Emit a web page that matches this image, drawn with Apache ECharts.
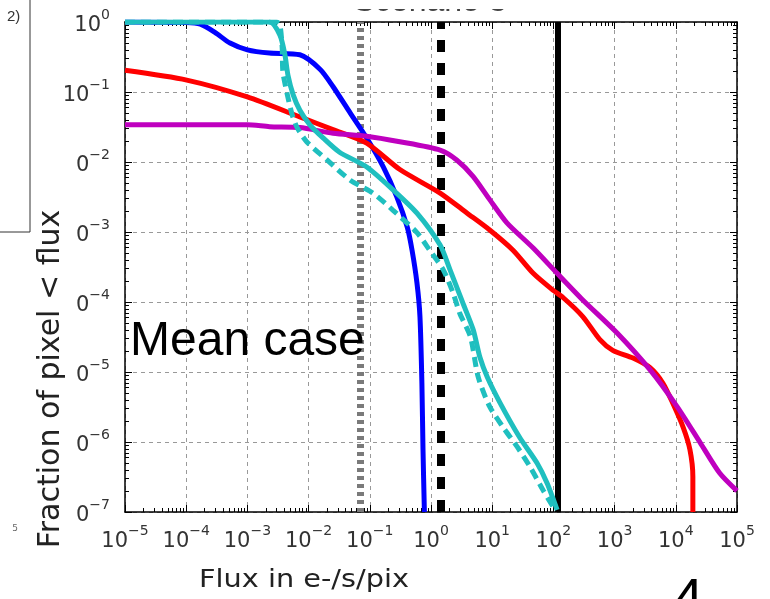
<!DOCTYPE html>
<html><head><meta charset="utf-8">
<script src="https://cdn.jsdelivr.net/npm/echarts@6/dist/echarts.min.js"></script>
<style>html,body{margin:0;padding:0;background:#fff}#c{width:770px;height:599px}</style>
</head><body><div id="c"></div>
<script>
// tick labels (decades)
const xTicks = [1e-5,1e-4,1e-3,1e-2,1e-1,1e0,1e1,1e2,1e3,1e4,1e5];
const yTicks = [1e-7,1e-6,1e-5,1e-4,1e-3,1e-2,1e-1,1e0];

// blue curve
const blueX = [1e-5,1.0e-4,1.7e-4,2.95e-4,5.2e-4,1.0e-3,2.3e-3,7.2e-3,0.0155,0.025,0.048,0.089,0.166,0.275,0.41,0.49,0.59,0.66,0.71,0.74,0.78];
const blueY = [1.0,0.98,0.93,0.71,0.50,0.40,0.36,0.34,0.21,0.12,0.05,0.022,0.0085,0.0032,0.00117,5.5e-4,1.86e-4,6.2e-5,6.9e-6,7.8e-7,1e-7];

// red curve
const redX = [1e-5,1.02e-4,1e-3,7.2e-3,0.025,0.089,0.31,1.41,3.9,9.1,21.9,46.8,98,145,302,575,933,2000,3800,6170,8900,13200,17000,19000,19000];
const redY = [0.204,0.148,0.085,0.044,0.029,0.0186,0.0078,0.0036,0.00186,0.00107,5.5e-4,2.57e-4,1.48e-4,1.15e-4,6.2e-5,2.9e-5,2.04e-5,1.58e-5,1.15e-5,6.9e-6,3.6e-6,1.62e-6,7.8e-7,3.2e-7,1e-7];

// purple curve
const purpleX = [1e-5,1e-3,2.3e-3,7.2e-3,0.025,0.089,0.31,1.41,2.63,4.9,9.1,17.4,46.8,115,302,1100,3800,10500,25000,52000,1e5];
const purpleY = [0.034,0.034,0.032,0.031,0.0257,0.0234,0.0195,0.0148,0.0107,0.0062,0.0029,0.00135,5.9e-4,2.57e-4,1.07e-4,3.6e-5,1.07e-5,3.2e-6,9.8e-7,3.6e-7,2.0e-7];

// cyan solid curve
const cyanX = [1e-5,2.3e-3,3.4e-3,4.1e-3,4.6e-3,5.6e-3,7.2e-3,0.0105,0.0174,0.032,0.089,0.24,0.59,1.41,2.04,3.3,4.9,6.3,8.3,13.5,28,54,79,115];
const cyanY = [1.0,1.0,0.65,0.34,0.174,0.091,0.055,0.034,0.0219,0.0138,0.0085,0.0040,0.00186,6.5e-4,2.9e-4,9.8e-5,4.0e-5,1.62e-5,8.5e-6,3.6e-6,1.17e-6,5.0e-7,2.57e-7,1.07e-7];

// cyan dashed curve
const cyanDashX = [1e-5,3.0e-3,3.4e-3,3.7e-3,3.8e-3,4.5e-3,5.4e-3,6.5e-3,9.3e-3,0.020,0.048,0.112,0.24,0.59,0.95,1.58,2.29,2.95,4.4,5.9,9.1,15.1,25.7,41.7,68,100];
const cyanDashY = [1.0,1.0,0.91,0.43,0.195,0.091,0.047,0.031,0.0195,0.0107,0.0055,0.0036,0.00204,9.8e-4,5.5e-4,2.9e-4,1.35e-4,6.9e-5,3.2e-5,8.5e-6,3.2e-6,1.62e-6,8.5e-7,4.4e-7,2.04e-7,1.17e-7];

// vertical reference lines
const refLineX = [0.0673, 1.44, 116];

const zip = (a, b) => a.map((v, i) => [v, b[i]]);
function minorOf(ticks) {
  const out = [];
  for (let i = 0; i < ticks.length - 1; i++) for (let k = 2; k <= 9; k++) out.push(ticks[i] * k);
  return out;
}
const xMinor = minorOf(xTicks), yMinor = minorOf(yTicks);

function supFmt(v) {
  const e = Math.round(Math.log10(v));
  return '{b|10}{s|' + (e < 0 ? '\u2212' + (-e) : String(e)) + '}';
}
const rich = {
  b: { fontFamily: 'DejaVu Sans', fontSize: 21, color: '#333', lineHeight: 28, verticalAlign: 'bottom' },
  s: { fontFamily: 'DejaVu Sans', fontSize: 14, color: '#333', lineHeight: 16, verticalAlign: 'top' }
};
const tickStyle = { color: '#000', width: 1 };
const frameStyle = { color: '#000', width: 1.5 };
const grid = { color: '#999', width: 1, type: [4, 4] };

function mkAxis(kind, pos, major, ticks, minor, extra) {
  const ext = kind === 'x' ? { min: 1e-5, max: 1e5, splitNumber: 10 } : { min: 1e-7, max: 1, splitNumber: 7 };
  return Object.assign({
    type: 'log', logBase: 10, position: pos, ...ext,
    axisLine: { show: major, onZero: false, lineStyle: frameStyle },
    axisTick: { show: true, inside: true, length: major ? 7 : 4, lineStyle: tickStyle, customValues: major ? ticks : minor },
    axisLabel: { show: false },
    splitLine: { show: false },
    minorTick: { show: false }
  }, extra || {});
}

const chart = echarts.init(document.getElementById('c'));
const lineSeries = (name, x, y, color, dashed) => ({
  name, type: 'line', xAxisIndex: 0, yAxisIndex: 0, data: zip(x, y),
  showSymbol: false, symbol: 'none', smooth: 0.25, smoothMonotone: 'none', z: 5,
  lineStyle: { color, width: 5, type: dashed ? [10, 6] : 'solid', cap: 'butt' }
});

chart.setOption({
  animation: false,
  backgroundColor: '#fff',
  grid: { left: 125, right: 33, top: 22, bottom: 87, containLabel: false },
  xAxis: [
    mkAxis('x', 'bottom', true, xTicks, xMinor, {
      axisLabel: { show: true, customValues: xTicks, formatter: supFmt, rich, margin: 12 },
      splitLine: { show: true, lineStyle: grid }
    }),
    mkAxis('x', 'bottom', false, xTicks, xMinor),
    mkAxis('x', 'top', true, xTicks, xMinor),
    mkAxis('x', 'top', false, xTicks, xMinor)
  ],
  yAxis: [
    mkAxis('y', 'left', true, yTicks, yMinor, {
      axisLabel: { show: true, customValues: yTicks, formatter: supFmt, rich, margin: 15 },
      splitLine: { show: true, lineStyle: grid }
    }),
    mkAxis('y', 'left', false, yTicks, yMinor),
    mkAxis('y', 'right', true, yTicks, yMinor),
    mkAxis('y', 'right', false, yTicks, yMinor)
  ],
  series: [
    {
      name: 'ref', type: 'line', data: [], z: 3, xAxisIndex: 0, yAxisIndex: 0,
      markLine: {
        symbol: 'none', silent: true, label: { show: false },
        data: [
          { xAxis: refLineX[0], lineStyle: { color: '#7a7a7a', width: 7, type: [4, 4] } },
          { xAxis: refLineX[1], lineStyle: { color: '#000', width: 8, type: [12, 11] } },
          { xAxis: refLineX[2], lineStyle: { color: '#000', width: 6, type: 'solid' } }
        ]
      }
    },
    lineSeries('blue', blueX, blueY, '#0000ff'),
    lineSeries('red', redX, redY, '#ff0000'),
    lineSeries('purple', purpleX, purpleY, '#bf00bf'),
    lineSeries('cyan', cyanX, cyanY, '#1fbfbf'),
    lineSeries('cyanDash', cyanDashX, cyanDashY, '#1fbfbf', true)
  ],
  graphic: [
    { type: 'text', z: 90, x: 430, y: 2, style: { text: 'Scenario 3', font: '32px "Liberation Sans"', fill: '#444', align: 'center', verticalAlign: 'middle' } },
    { type: 'rect', z: 95, shape: { x: 320, y: -5, width: 220, height: 14 }, style: { fill: '#fff' } },
    { type: 'rect', z: 96, shape: { x: -2, y: -2, width: 32, height: 234 }, style: { fill: '#fff', stroke: '#333', lineWidth: 1 } },
    { type: 'text', z: 97, x: 7, y: 17, style: { text: '2)', font: '15px "Liberation Sans"', fill: '#333', verticalAlign: 'middle' } },
    { type: 'rect', z: 98, shape: { x: 34, y: 128, width: 42, height: 432 }, style: { fill: '#fff' } },
    { type: 'text', z: 99, x: 51, y: 379, rotation: Math.PI / 2, style: { text: 'Fraction of pixel < flux', font: '30px "DejaVu Sans"', fill: '#222', align: 'center', verticalAlign: 'middle' } },
    { type: 'text', z: 99, x: 304, y: 580, scaleX: 1.15, style: { text: 'Flux in e-/s/pix', font: '25px "DejaVu Sans"', fill: '#222', align: 'center', verticalAlign: 'middle' } },
    { type: 'text', z: 99, x: 130, y: 342, style: { text: 'Mean case', font: '48px "Liberation Sans"', fill: '#000', verticalAlign: 'middle' } },
    { type: 'text', z: 99, x: 688, y: 602, style: { text: '4', font: '56px "Liberation Sans"', fill: '#000', align: 'center', verticalAlign: 'middle' } },
    { type: 'text', z: 99, x: 15, y: 529, style: { text: '5', font: '9px "DejaVu Sans"', fill: '#666', align: 'center', verticalAlign: 'middle' } }
  ]
});
</script>
</body></html>
